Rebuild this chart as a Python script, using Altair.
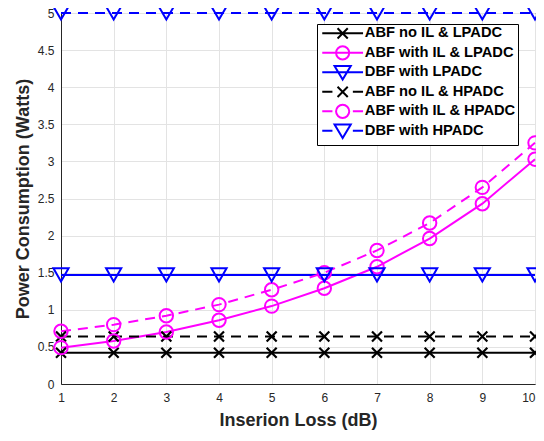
import altair as alt
import pandas as pd

# ---- data ----
x_vals = [1, 2, 3, 4, 5, 6, 7, 8, 9, 10]
y_ticks = [0, 0.5, 1, 1.5, 2, 2.5, 3, 3.5, 4, 4.5, 5]
series_names = [
    "ABF no IL & LPADC",
    "ABF with IL & LPADC",
    "DBF with LPADC",
    "ABF no IL & HPADC",
    "ABF with IL & HPADC",
    "DBF with HPADC",
]
abf_noil_lp = [0.42, 0.42, 0.42, 0.42, 0.42, 0.42, 0.42, 0.42, 0.42, 0.42]
abf_il_lp = [0.49, 0.58, 0.70, 0.86, 1.05, 1.29, 1.58, 1.96, 2.43, 3.03]
dbf_lp = [1.47, 1.47, 1.47, 1.47, 1.47, 1.47, 1.47, 1.47, 1.47, 1.47]
abf_noil_hp = [0.64, 0.64, 0.64, 0.64, 0.64, 0.64, 0.64, 0.64, 0.64, 0.64]
abf_il_hp = [0.71, 0.80, 0.92, 1.07, 1.27, 1.50, 1.80, 2.17, 2.65, 3.25]
dbf_hp = [5.0, 5.0, 5.0, 5.0, 5.0, 5.0, 5.0, 5.0, 5.0, 5.0]

series_values = [abf_noil_lp, abf_il_lp, dbf_lp, abf_noil_hp, abf_il_hp, dbf_hp]
series_colors = ["#000000", "#ff00ff", "#0000ff", "#000000", "#ff00ff", "#0000ff"]
series_style = ["solid", "solid", "solid", "dashed", "dashed", "dashed"]
series_marker = ["cross", "circle", "tri", "cross", "circle", "tri"]

rows = []
for name, vals, col, st, mk in zip(series_names, series_values, series_colors,
                                    series_style, series_marker):
    for xv, yv in zip(x_vals, vals):
        rows.append({"series": name, "x": xv, "y": yv, "col": col,
                     "style": st, "marker": mk})
df = pd.DataFrame(rows)

# ---- legend symbol paths (unit = 6 px) ----
cross_p = "M-0.85,-0.85L0.85,0.85M-0.85,0.85L0.85,-0.85"
circle_p = "M1.1,0A1.1,1.1 0 1,1 -1.1,0A1.1,1.1 0 1,1 1.1,0Z"
tri_p = "M-1.35,-1.05L1.35,-1.05L0,1.2Z"
solid_l = "M-3.4,0L3.4,0"
dash_l = "M-3.4,0L-1.7,0M1.7,0L3.4,0"
leg_paths = [
    solid_l + cross_p,
    solid_l + circle_p,
    solid_l + tri_p,
    dash_l + cross_p,
    dash_l + circle_p,
    dash_l + tri_p,
]

FONT = "Liberation Sans"

legend = alt.Legend(
    title=None,
    orient="none",
    legendX=256,
    legendY=11,
    labelFont=FONT,
    labelFontSize=14.7,
    labelFontWeight="bold",
    labelColor="#000000",
    symbolSize=144,
    symbolStrokeWidth=2,
    symbolOffset=16.3,
    labelOffset=14.8,
    rowPadding=-1.5,
    padding=2,
    strokeColor="#000000",
    fillColor="#ffffff",
    symbolFillColor="transparent",
)

x_enc = alt.X(
    "x:Q",
    scale=alt.Scale(domain=[1, 10], nice=False),
    axis=alt.Axis(
        title="Inserion Loss (dB)",
        values=x_vals,
        format="d",
        grid=True,
        gridColor="#e3e3e3",
        labelFont=FONT,
        labelFontSize=12,
        labelColor="#262626",
        labelPadding=8,
        labelOverlap=False,
        labelAlign={"condition": {"test": "datum.value == 10", "value": "right"},
                    "value": "center"},
        titleFont=FONT,
        titleFontSize=18,
        titleFontWeight="bold",
        titleColor="#262626",
        titlePadding=8,
        tickSize=0,
        domainColor="#262626",
    ),
)
y_enc = alt.Y(
    "y:Q",
    scale=alt.Scale(domain=[0, 5], nice=False),
    axis=alt.Axis(
        title="Power Consumption (Watts)",
        values=y_ticks,
        format="~g",
        grid=True,
        gridColor="#e3e3e3",
        labelFont=FONT,
        labelFontSize=12,
        labelColor="#262626",
        labelPadding=7,
        labelOverlap=False,
        titleFont=FONT,
        titleFontSize=18,
        titleFontWeight="bold",
        titleColor="#262626",
        titlePadding=5,
        tickSize=0,
        domainColor="#262626",
    ),
)

base = alt.Chart(df).encode(x=x_enc, y=y_enc)
stroke_enc = alt.Stroke("col:N", scale=None)

lines_solid = base.transform_filter(alt.datum.style == "solid").mark_line(
    strokeWidth=2, clip=False
).encode(stroke=stroke_enc, detail="series:N")

lines_dash = base.transform_filter(alt.datum.style == "dashed").mark_line(
    strokeWidth=2, clip=False, strokeDash=[10, 7]
).encode(stroke=stroke_enc, detail="series:N")

pt_cross = base.transform_filter(alt.datum.marker == "cross").mark_point(
    shape="M-1,-1L1,1M-1,1L1,-1", size=100, filled=False, strokeWidth=2.2, opacity=1
).encode(stroke=stroke_enc)

pt_circle = base.transform_filter(alt.datum.marker == "circle").mark_point(
    shape="circle", size=180, filled=False, strokeWidth=2, opacity=1
).encode(stroke=stroke_enc)

pt_tri = base.transform_filter(alt.datum.marker == "tri").mark_point(
    shape="triangle-down", size=230, filled=False, strokeWidth=2, opacity=1
).encode(stroke=stroke_enc)

# legend-only layer (no rows survive the filter; scales have explicit domains)
leg_layer = base.transform_filter("false").mark_point(
    filled=False, strokeWidth=2, opacity=1
).encode(
    color=alt.Color("series:N",
                    scale=alt.Scale(domain=series_names, range=series_colors),
                    legend=legend),
    shape=alt.Shape("series:N",
                    scale=alt.Scale(domain=series_names, range=leg_paths),
                    legend=legend),
)

chart = (
    alt.layer(lines_solid, lines_dash, pt_cross, pt_circle, pt_tri, leg_layer)
    .properties(
        width=474,
        height=371,
        autosize=alt.AutoSizeParams(type="none"),
        padding={"left": 53, "top": 5, "right": 1, "bottom": 47},
        background="#ffffff",
    )
    .configure_view(stroke="#262626", strokeWidth=1)
)

chart.save("out.html", embed_options={"renderer": "svg", "actions": False})
